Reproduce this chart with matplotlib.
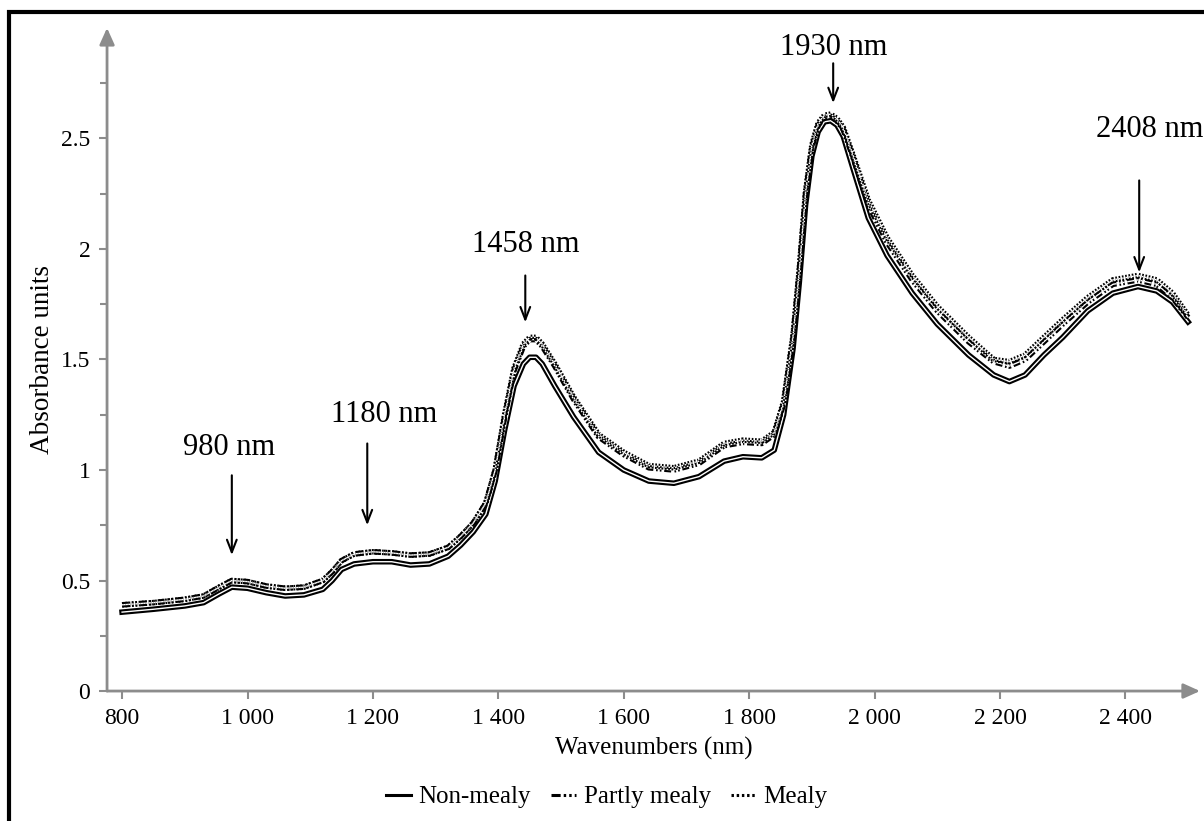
#!/usr/bin/env python3
"""NIR absorbance spectra of non-mealy, partly mealy and mealy samples."""

import matplotlib

matplotlib.use("Agg")
import matplotlib.pyplot as plt
import matplotlib.patheffects as pe
from matplotlib.lines import Line2D
from matplotlib.patches import Rectangle
from matplotlib.ticker import FixedLocator, FuncFormatter

plt.rcParams["font.family"] = ["Liberation Serif", "DejaVu Serif"]

wavelengths = [
    800, 850, 900, 930, 955, 975, 1000, 1030, 1060, 1090, 1120, 1135, 1150, 1170,
    1200, 1230, 1260, 1290, 1320, 1340, 1360, 1380, 1395, 1410, 1425, 1440, 1450,
    1460, 1470, 1490, 1520, 1560, 1600, 1640, 1680, 1720, 1760, 1790, 1820, 1840,
    1855, 1870, 1880, 1890, 1900, 1910, 1920, 1930, 1940, 1950, 1965, 1990, 2020,
    2060, 2100, 2150, 2190, 2215, 2240, 2270, 2300, 2340, 2380, 2420, 2450, 2475, 2500,
]
non_mealy = [
    0.357, 0.37, 0.385, 0.40, 0.44, 0.47, 0.465, 0.445, 0.43, 0.435, 0.46, 0.50, 0.55, 0.575,
    0.585, 0.585, 0.57, 0.575, 0.61, 0.66, 0.72, 0.80, 0.95, 1.18, 1.38, 1.48, 1.51,
    1.51, 1.48, 1.38, 1.24, 1.08, 1.00, 0.95, 0.94, 0.97, 1.04, 1.06, 1.055, 1.09,
    1.25, 1.55, 1.85, 2.20, 2.42, 2.53, 2.575, 2.58, 2.56, 2.51, 2.37, 2.14, 1.97,
    1.80, 1.66, 1.52, 1.43, 1.40, 1.43, 1.52, 1.60, 1.72, 1.80, 1.83, 1.81, 1.76, 1.67,
]
partly_mealy = [
    0.39, 0.40, 0.415, 0.43, 0.47, 0.50, 0.495, 0.475, 0.465, 0.47, 0.50, 0.54, 0.59, 0.62,
    0.63, 0.625, 0.615, 0.62, 0.65, 0.70, 0.76, 0.85, 1.00, 1.24, 1.45, 1.56, 1.59,
    1.59, 1.56, 1.47, 1.32, 1.15, 1.07, 1.01, 1.00, 1.03, 1.11, 1.125, 1.12, 1.16,
    1.30, 1.60, 1.90, 2.25, 2.46, 2.56, 2.595, 2.60, 2.58, 2.54, 2.42, 2.20, 2.03,
    1.86, 1.72, 1.58, 1.49, 1.47, 1.50, 1.58, 1.66, 1.76, 1.84, 1.86, 1.84, 1.78, 1.69,
]
mealy = [
    0.39, 0.40, 0.415, 0.43, 0.47, 0.50, 0.495, 0.475, 0.465, 0.47, 0.50, 0.54, 0.59, 0.62,
    0.63, 0.625, 0.615, 0.62, 0.65, 0.70, 0.76, 0.85, 1.00, 1.25, 1.46, 1.57, 1.60,
    1.60, 1.57, 1.48, 1.33, 1.16, 1.08, 1.02, 1.01, 1.04, 1.12, 1.135, 1.13, 1.17,
    1.31, 1.61, 1.91, 2.26, 2.47, 2.57, 2.605, 2.61, 2.59, 2.55, 2.43, 2.22, 2.05,
    1.88, 1.74, 1.60, 1.50, 1.49, 1.52, 1.60, 1.68, 1.78, 1.86, 1.88, 1.86, 1.80, 1.70,
]

series_labels = ["Non-mealy", "Partly mealy", "Mealy"]
peak_labels = ["980 nm", "1180 nm", "1458 nm", "1930 nm", "2408 nm"]
x_ticks = [800, 1000, 1200, 1400, 1600, 1800, 2000, 2200, 2400]
y_ticks = [0, 0.5, 1, 1.5, 2, 2.5]
y_minor = [0.25, 0.75, 1.25, 1.75, 2.25, 2.75]

GRAY = "#8c8c8c"

fig = plt.figure(figsize=(12.04, 8.21), dpi=100)
ax = fig.add_axes([0.0889, 0.1583, 0.9078, 0.8077])

# outer frame (only the top and left edges show in the reference)
fig.patches.append(Rectangle((9 / 1204, -0.2), 1.5, 1.2 - 12 / 821,
                             transform=fig.transFigure, fill=False,
                             edgecolor="black", linewidth=3, zorder=10))

styles = [
    dict(ls="-"),
    dict(ls=(0, (5, 2, 1.2, 1.5, 1.2, 2))),
    dict(ls=(0, (1.2, 1.2))),
]
for ys, st in zip([non_mealy, partly_mealy, mealy], styles):
    ax.plot(wavelengths, ys, color="white", lw=1.0, solid_joinstyle="round",
            path_effects=[pe.Stroke(linewidth=4.0, foreground="black"), pe.Normal()],
            **st)

ax.set_xlim(776, 2519)
ax.set_ylim(0, 3.0)

for s in ax.spines.values():
    s.set_visible(False)
for end in [(1.0, 0), (0, 1.0)]:
    ax.annotate("", xy=end, xytext=(0, 0), xycoords="axes fraction",
                arrowprops=dict(arrowstyle="-|>,head_length=1.0,head_width=0.45",
                                color=GRAY, lw=2.0, shrinkA=0, shrinkB=0))

ax.xaxis.set_major_locator(FixedLocator(x_ticks))
ax.xaxis.set_major_formatter(FuncFormatter(lambda v, _: f"{int(v):,}".replace(",", " ")))
ax.yaxis.set_major_locator(FixedLocator(y_ticks))
ax.yaxis.set_minor_locator(FixedLocator(y_minor))
ax.yaxis.set_major_formatter(FuncFormatter(lambda v, _: f"{v:g}"))
ax.tick_params(which="both", direction="out", color=GRAY, width=1.5, length=6,
               labelsize=17, pad=6)
ax.tick_params(axis="y", which="minor", length=5)

ax.set_xlabel("Wavenumbers (nm)", fontsize=18, labelpad=6)
ax.set_ylabel("Absorbance units", fontsize=19.5, labelpad=4)

# peak annotations: (arrow x, arrow head y, arrow tail y, text x, text y)
peak_pos = [
    (975, 0.615, 0.976, 970, 1.10),
    (1191, 0.75, 1.12, 1218, 1.25),
    (1443, 1.668, 1.88, 1443, 2.02),
    (1934, 2.66, 2.84, 1934, 2.91),
    (2422, 1.894, 2.31, 2439, 2.54),
]
for lab, (x, yh, yt, tx, ty) in zip(peak_labels, peak_pos):
    ax.annotate("", xy=(x, yh), xytext=(x, yt),
                arrowprops=dict(arrowstyle="->,head_length=0.9,head_width=0.35",
                                color="black", lw=1.5, shrinkA=0, shrinkB=0))
    ax.text(tx, ty, lab, ha="center", va="center", fontsize=22)

legend_styles = [
    dict(ls="-"),
    dict(ls=(0, (3, 1, 0.8, 1, 0.8, 1))),
    dict(ls=(0, (0.8, 0.9))),
]
handles = [Line2D([], [], color="black", lw=2.2, **st) for st in legend_styles]
fig.legend(handles, series_labels, loc="center", bbox_to_anchor=(0.504, 0.029),
           ncol=3, frameon=False, fontsize=18, handlelength=1.0, handletextpad=0.3,
           columnspacing=0.8)

fig.savefig("out.png", dpi=100)
